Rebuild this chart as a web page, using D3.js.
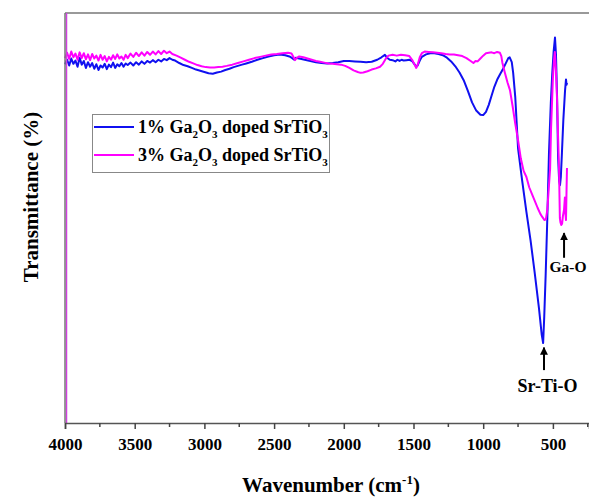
<!DOCTYPE html>
<html>
<head>
<meta charset="utf-8">
<script src="https://cdn.jsdelivr.net/npm/d3@7"></script>
<style>
  body { margin: 0; background: #fff; }
  svg { display: block; }
  text { font-family: "Liberation Serif", "Times New Roman", serif; font-weight: bold; fill: #000; }
</style>
</head>
<body>
<svg id="chart" width="589" height="498"></svg>
<script>
// FTIR spectra, [wavenumber (cm-1), transmittance (arbitrary %)]
const blue1 = [
  [4000,87.5],[3985,88.6],[3970,87.2],[3955,88.9],[3940,87.6],[3925,88.4],[3910,86.9],[3895,89.1],[3880,87.4],[3865,88.3],
  [3850,86.6],[3835,88.0],[3820,86.9],[3805,87.8],[3790,86.4],[3775,87.5],[3760,86.1],[3745,87.2],[3730,86.7],[3715,87.6],
  [3700,86.3],[3685,87.4],[3670,86.8],[3655,87.9],[3640,86.6],[3625,87.5],[3610,87.0],[3595,87.8],[3580,86.9],[3565,87.7],
  [3550,87.3],[3530,87.9],[3510,87.2],[3490,88.0],[3470,87.4],[3450,88.2],[3430,87.6],[3410,88.3],[3390,87.9],[3370,88.5],
  [3350,88.0],[3330,88.6],[3310,88.2],[3290,88.8],[3270,88.5],[3250,89.0],[3230,88.6],[3210,88.4],[3180,87.8],[3150,87.3],
  [3120,87.0],[3090,86.6],[3060,86.2],[3030,85.9],[3000,85.6],[2970,85.3],[2940,85.2],[2910,85.5],[2880,85.7],[2850,86.1],
  [2820,86.4],[2790,86.8],[2760,87.1],[2730,87.4],[2700,87.7],[2660,88.1],[2620,88.6],[2580,89.0],[2540,89.4],[2500,89.7],
  [2460,89.9],[2420,89.7],[2390,89.4],[2370,89.0],[2355,88.6],[2345,89.1],[2320,88.9],[2280,88.6],[2240,88.3],[2200,88.0],
  [2160,87.8],[2120,87.7],[2080,87.8],[2040,88.0],[2000,88.3],[1960,88.3],[1920,88.2],[1880,88.1],[1840,88.0],[1800,88.1],
  [1760,88.6],[1730,89.2],[1705,89.8],[1690,89.1],[1670,88.6],[1650,88.5],[1630,88.2],[1615,88.6],[1600,88.3],[1585,88.6],
  [1570,88.4],[1550,88.5],[1530,88.6],[1510,88.3],[1495,87.6],[1480,86.9],[1470,87.2],[1455,88.4],[1440,89.3],[1410,89.9],
  [1380,90.2],[1350,90.2],[1320,90.0],[1290,89.7],[1260,89.1],[1230,88.2],[1200,87.0],[1170,85.5],[1140,83.6],[1110,81.0],
  [1080,78.2],[1050,76.2],[1020,75.2],[1000,75.1],[980,75.9],[960,77.6],[940,79.8],[920,82.0],[900,83.7],[880,85.0],
  [860,86.2],[840,87.6],[820,89.0],[810,89.2],[795,88.0],[785,85.4],[770,79.5],[750,67.0],[720,59.0],[690,51.5],
  [660,44.5],[630,36.5],[600,28.0],[580,21.5],[570,19.5],[562,26.0],[552,36.0],[540,50.0],[528,66.0],[515,78.0],
  [505,85.0],[495,90.5],[485,94.0],[478,90.0],[470,79.5],[463,65.0],[455,59.0],[449,58.0],[443,60.0],[435,66.0],
  [425,74.0],[413,81.0],[406,83.8],[402,82.5],[399,83.0]
];
const pink3 = [
  [4000,89.0],[3985,90.3],[3970,88.8],[3955,90.6],[3940,89.2],[3925,90.1],[3910,88.6],[3895,90.4],[3880,89.0],[3865,90.2],
  [3850,88.7],[3835,89.9],[3820,88.5],[3805,90.0],[3790,88.9],[3775,89.6],[3760,88.4],[3745,89.8],[3730,88.6],[3715,89.5],
  [3700,88.2],[3685,89.3],[3670,88.6],[3655,89.7],[3640,88.8],[3625,89.9],[3610,88.9],[3595,89.4],[3580,88.6],[3565,89.8],
  [3550,89.0],[3530,90.1],[3510,89.3],[3490,90.3],[3470,89.5],[3450,90.4],[3430,89.6],[3410,90.5],[3390,89.8],[3370,90.6],
  [3350,89.9],[3330,90.7],[3310,90.0],[3290,90.8],[3270,90.2],[3250,90.6],[3230,90.0],[3200,89.6],[3170,89.1],[3140,88.6],
  [3110,88.1],[3080,87.7],[3050,87.3],[3020,87.0],[2990,86.8],[2960,86.7],[2930,86.7],[2900,86.8],[2870,86.9],[2840,87.1],
  [2800,87.4],[2760,87.8],[2720,88.2],[2680,88.6],[2640,89.0],[2600,89.3],[2560,89.6],[2520,89.9],[2480,90.0],[2440,90.2],
  [2400,90.3],[2375,90.1],[2360,89.2],[2350,88.5],[2340,89.0],[2320,89.4],[2290,89.2],[2260,88.9],[2230,88.6],[2200,88.3],
  [2170,88.1],[2140,87.9],[2110,87.7],[2080,87.6],[2050,87.5],[2020,87.4],[1990,87.1],[1960,86.6],[1930,86.0],[1900,85.6],
  [1880,85.4],[1860,85.5],[1830,85.8],[1800,86.2],[1770,86.5],[1740,86.9],[1720,87.6],[1700,88.8],[1680,89.6],[1650,89.8],
  [1620,89.6],[1590,89.8],[1560,89.7],[1530,89.5],[1510,88.6],[1495,87.6],[1480,86.6],[1470,87.4],[1455,89.2],[1440,90.2],
  [1420,90.6],[1390,90.5],[1360,90.4],[1330,90.3],[1300,90.2],[1270,90.0],[1240,89.9],[1210,89.9],[1180,89.7],[1150,89.5],
  [1120,89.0],[1090,88.3],[1070,87.8],[1055,88.3],[1040,88.2],[1020,88.9],[1000,89.6],[980,90.2],[960,90.3],[940,90.4],
  [920,90.2],[900,90.5],[880,90.3],[870,89.5],[862,87.8],[845,85.5],[825,83.0],[808,81.2],[790,77.5],[770,73.0],
  [750,69.0],[730,64.5],[710,61.5],[690,60.0],[670,57.5],[650,55.8],[630,54.2],[610,52.5],[590,51.0],[575,50.2],
  [560,49.5],[550,49.7],[540,52.0],[530,57.0],[520,62.0],[513,72.0],[500,84.0],[492,88.5],[486,90.5],[478,86.0],
  [470,78.8],[463,70.0],[456,62.0],[450,50.0],[446,49.0],[440,48.3],[434,48.6],[428,50.5],[420,52.0],[414,55.0],
  [410,51.0],[406,49.5],[402,57.0],[399,62.2]
];
const series = [
  { pct: '1%', color: '#1010f0', data: blue1 },
  { pct: '3%', color: '#ff00ff', data: pink3 }
];
const majorTicks = [4000, 3500, 3000, 2500, 2000, 1500, 1000, 500];
const minorTicks = [3750, 3250, 2750, 2250, 1750, 1250, 750, 250];
// peak annotations: [label, arrow wavenumber, arrow tip T, arrow tail T, label wavenumber, label T, font px]
const peaks = [
  ['Ga-O', 420, 46.3, 40.3, 391, 36.9, 15.5],
  ['Sr-Ti-O', 564, 18.4, 12.9, 538, 7.6, 18]
];

const FONT = '"Liberation Serif", "Times New Roman", serif';
const svg = d3.select('#chart');
const plotLeft = 65, plotTop = 13, plotBottom = 423, plotRight = 589;

const x = d3.scaleLinear().domain([4000, 241]).range([plotLeft, plotRight]);
const y = d3.scaleLinear().domain([0, 100]).range([plotBottom, plotTop]);

// frame: top line
svg.append('line')
    .attr('x1', plotLeft).attr('x2', plotRight)
    .attr('y1', plotTop).attr('y2', plotTop)
    .attr('stroke', '#777').attr('stroke-width', 1.5);

// spectra
const line = d3.line().x(d => x(d[0])).y(d => y(d[1]));
svg.append('g').selectAll('path')
    .data(series)
    .enter().append('path')
    .attr('d', d => line(d.data))
    .attr('fill', 'none')
    .attr('stroke', d => d.color)
    .attr('stroke-width', 2)
    .attr('stroke-linejoin', 'round');

// left axis (magenta edge next to it)
svg.append('line')
    .attr('x1', plotLeft + 1.5).attr('x2', plotLeft + 1.5)
    .attr('y1', plotTop).attr('y2', plotBottom)
    .attr('stroke', '#d040e0').attr('stroke-width', 1.5);
svg.append('line')
    .attr('x1', plotLeft).attr('x2', plotLeft)
    .attr('y1', plotTop).attr('y2', plotBottom)
    .attr('stroke', '#777').attr('stroke-width', 1.5);

// bottom axis
const xAxis = d3.axisBottom(x).tickValues(majorTicks).tickSize(6).tickPadding(9)
    .tickFormat(d3.format('d'));
const gx = svg.append('g')
    .attr('transform', `translate(0,${plotBottom})`)
    .call(xAxis);
gx.attr('font-family', FONT);
gx.select('.domain').attr('stroke', '#555').attr('stroke-width', 1.5);
gx.selectAll('.tick line').attr('stroke', '#444').attr('stroke-width', 1.5);
gx.selectAll('.tick text')
    .style('font-family', FONT)
    .style('font-weight', 'bold')
    .style('font-size', '17px')
    .attr('fill', '#000');
svg.append('g')
    .attr('transform', `translate(0,${plotBottom})`)
    .selectAll('line')
    .data(minorTicks.filter(t => x(t) < plotRight))
    .enter().append('line')
    .attr('x1', d => x(d)).attr('x2', d => x(d))
    .attr('y1', 0).attr('y2', 4)
    .attr('stroke', '#444').attr('stroke-width', 1.5);

// axis titles
const xt = svg.append('text')
    .attr('x', 331).attr('y', 492)
    .attr('text-anchor', 'middle')
    .style('font-family', FONT)
    .style('font-size', '21px')
    .text('Wavenumber (cm');
xt.append('tspan').attr('dy', -8).style('font-size', '13px').text('-1');
xt.append('tspan').attr('dy', 8).text(')');

svg.append('text')
    .attr('transform', 'translate(38,197) rotate(-90)')
    .attr('text-anchor', 'middle')
    .style('font-family', FONT)
    .style('font-size', '21px')
    .text('Transmittance (%)');

// legend
const legend = svg.append('g');
legend.append('rect')
    .attr('x', 92.5).attr('y', 114.5)
    .attr('width', 237).attr('height', 58)
    .attr('fill', '#fff')
    .attr('stroke', '#888').attr('stroke-width', 1);
const rows = legend.selectAll('g.row')
    .data(series)
    .enter().append('g')
    .attr('class', 'row')
    .attr('transform', (d, i) => `translate(0,${127 + i * 28})`);
rows.append('line')
    .attr('x1', 94).attr('x2', 134)
    .attr('stroke', d => d.color).attr('stroke-width', 2);
rows.each(function(d) {
    const t = d3.select(this).append('text')
        .attr('x', 138).attr('y', 6)
        .style('font-family', FONT)
        .style('font-size', '18px');
    const parts = [[d.pct + ' Ga', 0], ['2', 1], ['O', 0], ['3', 1], [' doped SrTiO', 0], ['3', 1]];
    let sub = false;
    parts.forEach(p => {
        const ts = t.append('tspan').text(p[0]);
        if (p[1]) {
            ts.attr('dy', 5).style('font-size', '11px');
            sub = true;
        } else if (sub) {
            ts.attr('dy', -5);
            sub = false;
        }
    });
});

// peak annotations
svg.append('defs').append('marker')
    .attr('id', 'arrow')
    .attr('viewBox', '0 0 10 10')
    .attr('refX', 9).attr('refY', 5)
    .attr('markerWidth', 4).attr('markerHeight', 4)
    .attr('orient', 'auto')
    .append('path').attr('d', 'M0,0 L10,5 L0,10 z').attr('fill', '#000');

const ann = svg.append('g').selectAll('g')
    .data(peaks)
    .enter().append('g');
ann.append('line')
    .attr('x1', d => x(d[1])).attr('x2', d => x(d[1]))
    .attr('y1', d => y(d[3])).attr('y2', d => y(d[2]))
    .attr('stroke', '#000').attr('stroke-width', 2)
    .attr('marker-end', 'url(#arrow)');
ann.append('text')
    .attr('x', d => x(d[4]))
    .attr('y', d => y(d[5]))
    .attr('text-anchor', 'middle')
    .style('font-family', FONT)
    .style('font-size', d => d[6] + 'px')
    .text(d => d[0]);
</script>
</body>
</html>
